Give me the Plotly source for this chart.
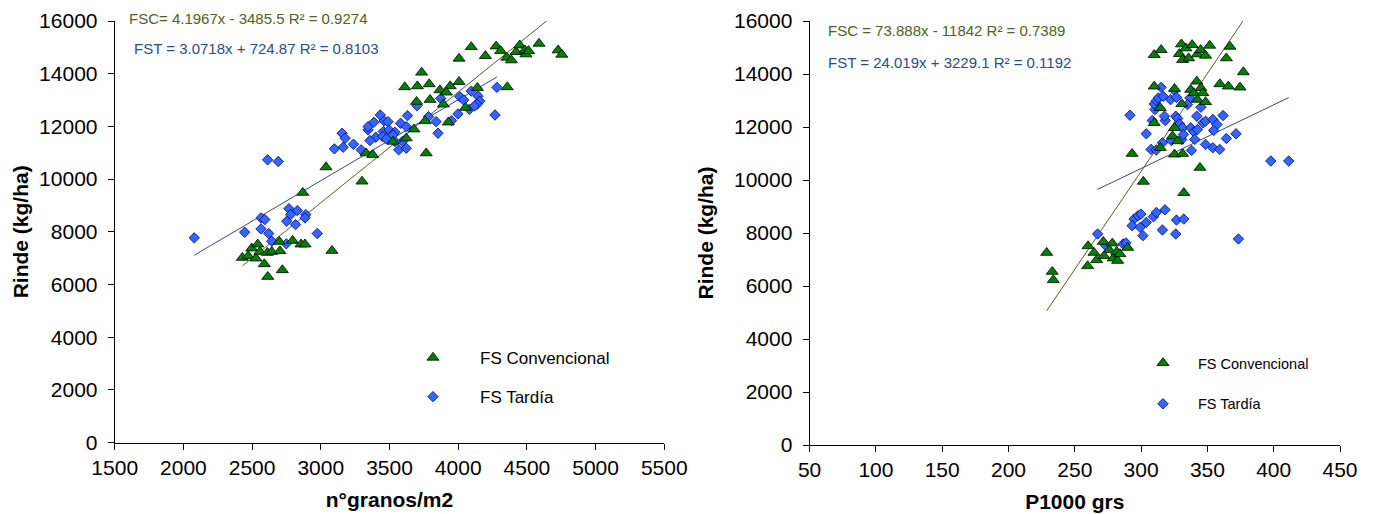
import plotly.graph_objects as go

# ---------------- data ----------------
# Left panel: grain number (n°granos/m2) vs yield (kg/ha)
gn_conv_x = [4095, 4006, 4198, 4276, 4309, 4354, 4387, 4421, 4448, 4485, 4493, 4512, 4588, 4727, 4754,
             3734, 3611, 3703, 3789, 3942, 4006, 4140, 4357, 3867, 3914, 3795, 3697, 3892, 3759, 3928,
             3678, 3622, 3525, 3330, 3378, 3767, 3038, 3300, 2869, 4053,
             2497, 2541, 2429, 2472, 2528, 2557, 2611, 2643, 2703, 2589, 2614, 2720, 2698, 2795, 2856,
             2885, 3081]
gn_conv_y = [15017, 14576, 14677, 15042, 14866, 14614, 14513, 14828, 15080, 14891, 14740, 14866, 15143, 14891, 14727,
             14047, 13493, 13530, 13606, 13530, 13694, 13467, 13493, 13379, 13291, 13014, 12938, 12837, 12207, 12157,
             11892, 11552, 11426, 10985, 10922, 10985, 10456, 9914, 9486, 12711,
             7376, 7528, 7019, 7084, 6996, 7247, 7209, 7247, 7273, 6780, 6298, 6552, 7627, 7665, 7528,
             7528, 7285]
gn_tard_x = [2079, 2446, 2565, 2593, 2565, 2621, 2643, 2749, 2768, 2829, 2780, 2752, 2816, 2891, 2885, 2974,
             2613, 2690, 3099, 3163, 3155, 3177, 3238, 3294, 3344, 3344, 3386, 3400, 3358, 3433, 3461,
             3489, 3455, 3450, 3478, 3497, 3539, 3581, 3622, 3631, 3595, 3567, 3622, 3700, 3784, 3839,
             3853, 3873, 3951, 3998, 4012, 4040, 4081, 4095, 4145, 4156, 4137, 4118, 4282, 4268, 3539, 3525]
gn_tard_y = [7772, 7986, 8528, 8465, 8112, 7936, 7646, 7545, 8881, 8805, 8654, 8402, 8276, 8654, 8528, 7936,
             10733, 10670, 11149, 11212, 11741, 11552, 11325, 11111, 11867, 11993, 12157, 11590, 11464, 12434, 12207,
             12182, 11804, 11615, 11527, 11867, 11779, 12119, 11993, 12409, 11426, 11111, 11174, 12787, 12371, 12182,
             11741, 13064, 12220, 12472, 13127, 13001, 12648, 13341, 13152, 12963, 12837, 12774, 13480, 12434, 11426, 11678]

# Right panel: 1000-grain weight (P1000 grs) vs yield (kg/ha)
pm_conv_x = [309.9, 315.1, 330.4, 328.9, 333.8, 331.3, 335.9, 338.5, 342.5, 344.9, 348.6, 351.7, 364.3, 367.0,
             377.1, 309.9, 325.2, 342.0, 337.4, 339.9, 345.1, 346.6, 359.4, 365.8, 374.6, 330.7, 342.5, 348.6,
             314.5, 309.9, 325.2, 323.7, 327.6, 314.5, 293.2, 325.2, 331.3, 344.4, 301.7, 332.2,
             228.8, 233.0, 233.8, 260.0, 259.7, 264.5, 266.5, 271.5, 278.3, 276.0, 272.0, 279.0, 281.6,
             282.3, 284.0, 289.9]
pm_conv_y = [14723, 14911, 15124, 14760, 14973, 14535, 14598, 15099, 14748, 14911, 14698, 15074, 14598, 15036,
             14072, 13534, 13446, 13721, 13408, 13283, 13471, 13283, 13621, 13534, 13496, 12870, 13033, 12945,
             12720, 12156, 11969, 11656, 11468, 11217, 10992, 10967, 10992, 10466, 9940, 9515,
             7258, 6541, 6227, 7510, 6755, 7258, 6982, 7673, 7612, 7359, 7133, 7046, 7295,
             6956, 7208, 7446]
pm_tard_x = [291.6, 303.9, 307.5, 311.5, 316.1, 308.4, 310.5, 309.9, 311.5, 313.0, 315.1, 316.7, 318.2,
             322.2, 325.2, 326.7, 326.1, 327.6, 322.8, 328.9, 331.3, 330.7, 331.9, 337.4, 338.0, 339.9,
             340.5, 342.0, 345.1, 336.8, 346.6, 348.6, 342.5, 348.6, 354.1, 359.3, 354.1, 357.2, 361.8,
             364.3, 371.6, 354.7, 397.8, 411.3, 317.6, 335.0,
             267.2, 294.7, 297.7, 299.9, 293.2, 299.3, 303.9, 301.4, 309.3, 311.5, 318.0, 316.1, 326.1,
             326.7, 332.2, 373.4, 273.3, 286.5, 288.6]
pm_tard_y = [12444, 11743, 11155, 11130, 11405, 12244, 12657, 12870, 12995, 13095, 13496, 13158, 12244,
             13033, 13371, 13120, 12407, 12319, 11493, 12119, 11969, 11531, 11718, 11969, 11117, 11818,
             11531, 12407, 12745, 13095, 12156, 12219, 11906, 11343, 11217, 11155, 12282, 12094, 12432,
             11568, 11743, 11869, 10717, 10717, 12407, 12845,
             7962, 8526, 8651, 8713, 8275, 8213, 8400, 7900, 8613, 8776, 8876, 8112, 7962,
             8488, 8526, 7775, 7525, 7588, 7625]

# Trend line coefficients (slope, intercept) as printed on the chart
gn_conv_fit = (4.1967, -3485.5)
gn_tard_fit = (3.0718, 724.87)
pm_conv_fit = (73.888, -11842)
pm_tard_fit = (24.019, 3229.1)

gn_x_ticks = [1500, 2000, 2500, 3000, 3500, 4000, 4500, 5000, 5500]
pm_x_ticks = [50, 100, 150, 200, 250, 300, 350, 400, 450]
y_ticks = [0, 2000, 4000, 6000, 8000, 10000, 12000, 14000, 16000]

eq_gn_conv = "FSC= 4.1967x - 3485.5 R² = 0.9274"
eq_gn_tard = "FST = 3.0718x + 724.87 R² = 0.8103"
eq_pm_conv = "FSC = 73.888x - 11842 R² = 0.7389"
eq_pm_tard = "FST = 24.019x + 3229.1 R² = 0.1192"

# ---------------- styling ----------------
W, H = 1376, 514
FONT = "Arial, Liberation Sans, sans-serif"
GREEN = "#008000"
BLUE = "#3366FF"
LINE_C = "#4F6228"
LINE_T = "#2F4B85"


def trend(xs, fit):
    lo, hi = min(xs), max(xs)
    return [lo, hi], [fit[0] * lo + fit[1], fit[0] * hi + fit[1]]


fig = go.Figure()

panels = [
    ("x", "y", gn_conv_x, gn_conv_y, gn_tard_x, gn_tard_y, gn_conv_fit, gn_tard_fit, "legend"),
    ("x2", "y2", pm_conv_x, pm_conv_y, pm_tard_x, pm_tard_y, pm_conv_fit, pm_tard_fit, "legend2"),
]
for xa, ya, cx, cy, tx, ty, cfit, tfit, leg in panels:
    lx, lyv = trend(tx, tfit)
    fig.add_trace(go.Scatter(x=lx, y=lyv, mode="lines", line=dict(color=LINE_T, width=1),
                             xaxis=xa, yaxis=ya, showlegend=False, hoverinfo="skip"))
    lx, lyv = trend(cx, cfit)
    fig.add_trace(go.Scatter(x=lx, y=lyv, mode="lines", line=dict(color=LINE_C, width=1),
                             xaxis=xa, yaxis=ya, showlegend=False, hoverinfo="skip"))
    fig.add_trace(go.Scatter(x=tx, y=ty, mode="markers", name="FS Tardía", legend=leg,
                             legendgroup="t", legendrank=2,
                             marker=dict(symbol="diamond", size=8, color=BLUE,
                                         line=dict(color="#000080", width=0.8)),
                             xaxis=xa, yaxis=ya))
    fig.add_trace(go.Scatter(x=cx, y=cy, mode="markers", name="FS Convencional", legend=leg,
                             legendgroup="c", legendrank=1,
                             marker=dict(symbol="triangle-up", size=10.5, color=GREEN,
                                         line=dict(color="#000000", width=0.8)),
                             xaxis=xa, yaxis=ya))


def px_x(p):
    return p / W


def px_y(p):
    return 1 - p / H


axis_common = dict(showline=True, linecolor="black", linewidth=1, ticks="outside", ticklen=6,
                   tickcolor="black", tickwidth=1, showgrid=False, zeroline=False, automargin=False,
                   tickformat="d",
                   tickfont=dict(family=FONT, size=21, color="black"))
title_font = dict(family=FONT, size=21, weight="bold", color="black")

fig.update_layout(
    width=W, height=H, margin=dict(l=0, r=0, t=0, b=0, autoexpand=False),
    paper_bgcolor="white", plot_bgcolor="white",
    font=dict(family=FONT, color="black"),
    xaxis=dict(domain=[px_x(114.7), px_x(664.3)], range=[1500, 5500], tickvals=gn_x_ticks,
               anchor="y", title=dict(text="n°granos/m2", font=title_font, standoff=14),
               **axis_common),
    yaxis=dict(domain=[px_y(442.7), px_y(21)], range=[0, 16000], tickvals=y_ticks, anchor="x",
               ticklabelstandoff=6,
               title=dict(text="Rinde (kg/ha)", font=title_font, standoff=4),
               **axis_common),
    xaxis2=dict(domain=[px_x(809.6), px_x(1340)], range=[50, 450], tickvals=pm_x_ticks, anchor="y2",
                title=dict(text="P1000 grs", font=title_font, standoff=14),
                **axis_common),
    yaxis2=dict(domain=[px_y(445), px_y(21)], range=[0, 16000], tickvals=y_ticks, anchor="x2",
                ticklabelstandoff=6,
                title=dict(text="Rinde (kg/ha)", font=title_font, standoff=14),
                **axis_common),
    legend=dict(x=px_x(386), y=px_y(340), xanchor="left", yanchor="top", bgcolor="rgba(0,0,0,0)",
                font=dict(family=FONT, size=17), tracegroupgap=14, itemwidth=84),
    legend2=dict(x=px_x(1128), y=px_y(347), xanchor="left", yanchor="top", bgcolor="rgba(0,0,0,0)",
                 font=dict(family=FONT, size=14.5), tracegroupgap=19, itemwidth=60),
    showlegend=True,
)

annots = [
    (px_x(127), px_y(19), eq_gn_conv, LINE_C),
    (px_x(132), px_y(48), eq_gn_tard, LINE_T),
    (px_x(826), px_y(30), eq_pm_conv, LINE_C),
    (px_x(826), px_y(62), eq_pm_tard, LINE_T),
]
for ax_, ay_, txt, col in annots:
    fig.add_annotation(x=ax_, y=ay_, xref="paper", yref="paper", xanchor="left", yanchor="middle",
                       text=txt, showarrow=False, font=dict(family=FONT, size=15, color=col))

# remove the browser's default page margin so the figure sits at the window origin
fig.write_html("out.html", config={"displayModeBar": False},
               post_script="document.body.style.margin='0';")
